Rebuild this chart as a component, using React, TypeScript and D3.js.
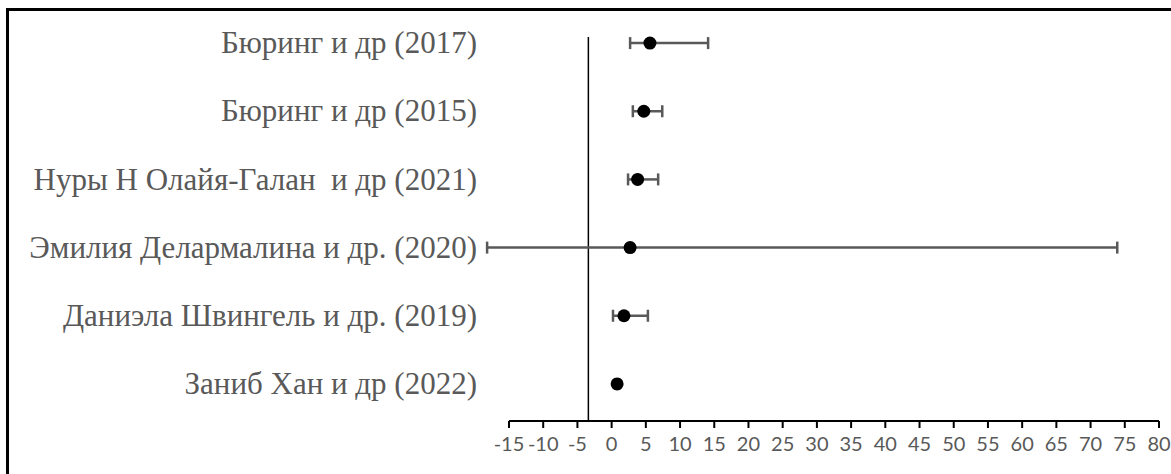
import React from "react";
import * as d3 from "d3";

const studies = [
  "Бюринг и др (2017)",
  "Бюринг и др (2015)",
  "Нуры Н Олайя-Галан  и др (2021)",
  "Эмилия Делармалина и др. (2020)",
  "Даниэла Швингель и др. (2019)",
  "Заниб Хан и др (2022)",
];
const estimates = [5.6, 4.7, 3.8, 2.7, 1.8, 0.8];
const lowerCI = [2.7, 3.1, 2.4, -18.2, 0.2, 0.5];
const upperCI = [14.1, 7.4, 6.8, 73.9, 5.3, 1.1];
const xTicks = [-15, -10, -5, 0, 5, 10, 15, 20, 25, 30, 35, 40, 45, 50, 55, 60, 65, 70, 75, 80];
const refLineValue = -3.4;

const W = 1171;
const H = 474;

export default function App() {
  const x = d3.scaleLinear().domain([-15, 80]).range([509, 1159]);
  const y = d3.scaleBand<string>().domain(studies).range([9, 418]).padding(0);
  const cy = (s: string) => (y(s) ?? 0) + y.bandwidth() / 2;
  const axisY = 421;
  const grey = "#595959";
  const capH = 6;

  return (
    <svg
      width={W}
      height={H}
      style={{ position: "absolute", left: 0, top: 0, display: "block", background: "#fff" }}
    >
      <rect x={0} y={0} width={W} height={H} fill="#fff" />
      <rect x={7.5} y={9.5} width={W + 20} height={H + 20} fill="none" stroke="#000" strokeWidth={3} />

      {/* reference vertical line */}
      <line x1={x(refLineValue)} x2={x(refLineValue)} y1={37} y2={axisY} stroke="#000" strokeWidth={1.5} />

      {/* x axis */}
      <line x1={x(-15)} x2={x(80)} y1={axisY} y2={axisY} stroke="#000" strokeWidth={2} />
      {xTicks.map((t) => (
        <g key={t}>
          <line x1={x(t)} x2={x(t)} y1={axisY} y2={axisY + 7} stroke="#000" strokeWidth={2} />
          <text
            x={x(t)}
            y={axisY + 30}
            textAnchor="middle"
            fontFamily="Lato, 'Open Sans', sans-serif"
            fontSize={20}
            fill={grey}
          >
            {t}
          </text>
        </g>
      ))}

      {/* category labels */}
      {studies.map((s) => (
        <text
          key={s}
          x={477}
          y={cy(s)}
          dy="0.33em"
          textAnchor="end"
          fontFamily="'Liberation Serif', 'Times New Roman', serif"
          fontSize={31}
          fill={grey}
          style={{ whiteSpace: "pre" }}
        >
          {s}
        </text>
      ))}

      {/* error bars and points */}
      {studies.map((s, i) => {
        const yy = cy(s);
        return (
          <g key={s + "-eb"}>
            <line x1={x(lowerCI[i])} x2={x(upperCI[i])} y1={yy} y2={yy} stroke={grey} strokeWidth={2.5} />
            <line x1={x(lowerCI[i])} x2={x(lowerCI[i])} y1={yy - capH} y2={yy + capH} stroke={grey} strokeWidth={2.5} />
            <line x1={x(upperCI[i])} x2={x(upperCI[i])} y1={yy - capH} y2={yy + capH} stroke={grey} strokeWidth={2.5} />
            <circle cx={x(estimates[i])} cy={yy} r={6.5} fill="#000" />
          </g>
        );
      })}
    </svg>
  );
}
